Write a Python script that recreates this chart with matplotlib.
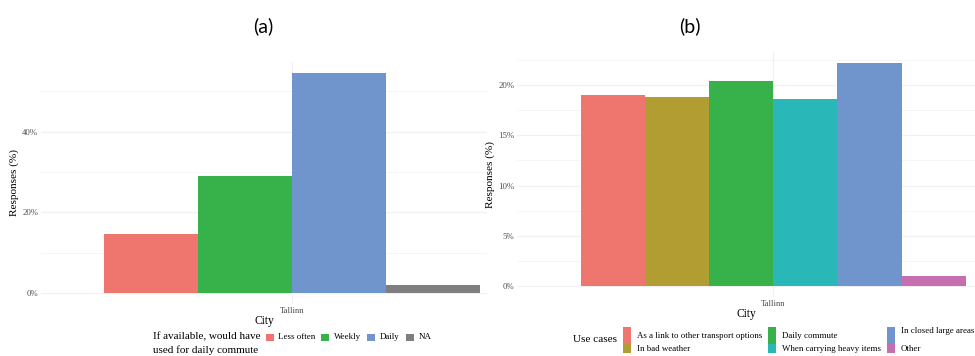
import numpy as np
import matplotlib
matplotlib.use("Agg")
import matplotlib.pyplot as plt
from matplotlib.patches import Rectangle

# Data
city = "Tallinn"

freq_labels = ["Less often", "Weekly", "Daily", "NA"]
freq_values = [14.6, 29.0, 54.5, 2.0]
freq_colors = ["#EE766F", "#37B24A", "#6F95CC", "#7F7F7F"]

use_labels = ["As a link to other transport options", "In bad weather", "Daily commute",
              "When carrying heavy items", "In closed large areas", "Other"]
use_values = [19.0, 18.8, 20.4, 18.6, 22.2, 1.0]
use_colors = ["#EE766F", "#B29D33", "#37B24A", "#29B7B8", "#6F95CC", "#C66FAE"]

left_ticks = [0, 20, 40]
left_minor = [10, 30, 50]
right_ticks = [0, 5, 10, 15, 20]
right_minor = [2.5, 7.5, 12.5, 17.5, 22.5]

W, H = 975, 356
SERIF = "Liberation Serif"
GRID = "#F1F1F1"
TICK_C = "#4D4D4D"


def fx(px):
    return px / W


def fy(py):
    return 1 - py / H


def make_axes(fig, l, r, t, b):
    return fig.add_axes([fx(l), fy(b), (r - l) / W, (b - t) / H])


def style_axes(ax, ticks, minor):
    for s in ax.spines.values():
        s.set_visible(False)
    ax.set_yticks(ticks)
    ax.set_yticklabels([f"{t}%" for t in ticks], fontsize=6.3, family=SERIF, color=TICK_C)
    for m in minor:
        ax.axhline(m, color=GRID, lw=0.5, zorder=0)
    for t in ticks:
        ax.axhline(t, color=GRID, lw=0.9, zorder=0)
    ax.axvline(1, color=GRID, lw=0.9, zorder=0)
    ax.set_xticks([1])
    ax.set_xticklabels([city], fontsize=6.2, family=SERIF, color=TICK_C)
    ax.tick_params(length=0, pad=2)
    ax.set_ylabel("Responses (%)", fontsize=8.1, family=SERIF, labelpad=2)
    ax.set_xlabel("City", fontsize=8.3, family=SERIF, labelpad=0)


fig = plt.figure(figsize=(W / 100, H / 100), dpi=100)

# (a)
ax1 = make_axes(fig, 41, 487, 62, 304)
n = len(freq_values)
w = 0.9 / n
xs = 1 + (np.arange(n) - (n - 1) / 2) * w
ax1.bar(xs, freq_values, width=w, color=freq_colors, zorder=2)
ax1.set_xlim(0.4, 1.467)
ax1.set_ylim(-0.05 * max(freq_values), 1.05 * max(freq_values))
style_axes(ax1, left_ticks, left_minor)

# (b)
ax2 = make_axes(fig, 517, 975, 51.7, 297.2)
n = len(use_values)
w = 0.9 / n
xs = 1 + (np.arange(n) - (n - 1) / 2) * w
ax2.bar(xs, use_values, width=w, color=use_colors, zorder=2)
ax2.set_xlim(0.4, 1.472)
ax2.set_ylim(-0.05 * max(use_values), 1.05 * max(use_values))
style_axes(ax2, right_ticks, right_minor)

# panel titles
fig.text(fx(263), fy(26), "(a)", fontsize=14, family="Lato", ha="center", va="center")
fig.text(fx(690), fy(26), "(b)", fontsize=14, family="Lato", ha="center", va="center")

# legend (a)
fig.text(fx(153), fy(337), "If available, would have", fontsize=8, family=SERIF, va="center")
fig.text(fx(153), fy(350), "used for daily commute", fontsize=8, family=SERIF, va="center")
key_x = [266, 321, 367, 406]
for kx, lab, col in zip(key_x, freq_labels, freq_colors):
    fig.add_artist(Rectangle((fx(kx), fy(341)), 7.5 / W, 7.5 / H, transform=fig.transFigure,
                             color=col, lw=0))
    fig.text(fx(kx + 12.5), fy(337), lab, fontsize=6.4, family=SERIF, va="center")

# legend (b)
fig.text(fx(573), fy(340), "Use cases", fontsize=8.1, family=SERIF, va="center")
col_x = [623, 768, 887]
for i, (lab, col) in enumerate(zip(use_labels, use_colors)):
    c, r = i // 2, i % 2
    kx = col_x[c]
    if r == 0:
        top, bot = 327, 344
        ty = 331 if c == 2 else 336
    else:
        top, bot = 344, 353
        ty = 349
    fig.add_artist(Rectangle((fx(kx), fy(bot)), 8 / W, (bot - top) / H, transform=fig.transFigure,
                             color=col, lw=0))
    fig.text(fx(kx + 14), fy(ty), lab, fontsize=6.4, family=SERIF, va="center")

fig.savefig("out.png", dpi=100)
